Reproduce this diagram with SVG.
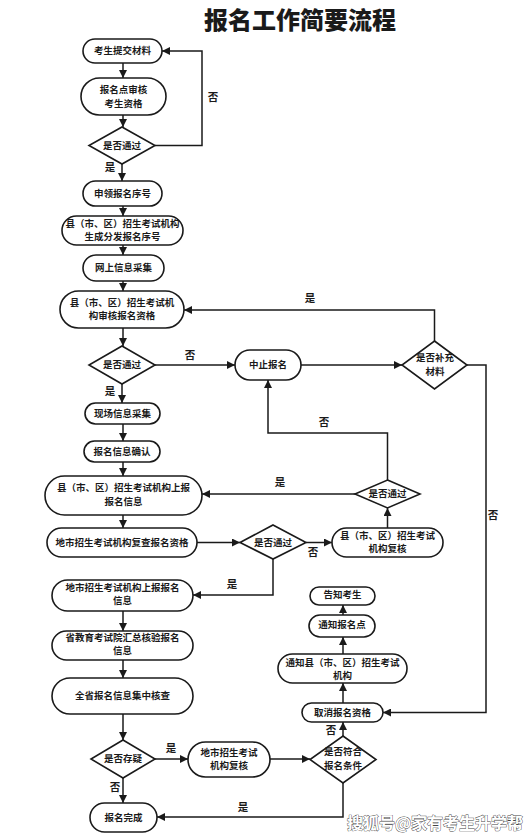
<svg xmlns="http://www.w3.org/2000/svg" width="530" height="840" viewBox="0 0 530 840">
<defs>
<marker id="ah" viewBox="0 0 10 10" refX="10" refY="5" markerWidth="9" markerHeight="8" markerUnits="userSpaceOnUse" orient="auto"><path d="M0,0 L10,5 L0,10 z" fill="#1a1a1a"/></marker>
</defs>
<style>
.n rect,.n polygon{fill:#fff;stroke:#1a1a1a;stroke-width:1.6}
text{font-family:"Noto Sans CJK SC","Noto Sans",sans-serif;font-size:9.5px;font-weight:bold;fill:#1a1a1a;text-anchor:middle}
.c path{fill:none;stroke:#1a1a1a;stroke-width:1.5;marker-end:url(#ah)}
.lb{font-size:10.5px}
.title{font-size:24px;font-weight:900}
.wm{font-size:16px;fill:#fff;stroke:#444;stroke-width:0.8;paint-order:stroke;text-anchor:start}
</style>
<rect width="530" height="840" fill="#fff"/>
<text class="title" x="300" y="29">报名工作简要流程</text>
<g class="c">
<path d="M123,63 V78"/>
<path d="M123,115 V127"/>
<path d="M155,145.5 H202 V51 H162"/>
<path d="M122,164 V181"/>
<path d="M123,206 V216"/>
<path d="M123,245 V255"/>
<path d="M123,281 V291"/>
<path d="M123,328 V346"/>
<path d="M155,365 H235"/>
<path d="M301,365 H402"/>
<path d="M434.5,341 V310 H184"/>
<path d="M467,365 H486 V712.5 H383"/>
<path d="M122,384 V403"/>
<path d="M123,424 V441"/>
<path d="M123,462 V476"/>
<path d="M123,515 V528"/>
<path d="M197,542.5 H240"/>
<path d="M306,542.5 H332"/>
<path d="M387.5,528 V508"/>
<path d="M355,494 H202"/>
<path d="M387.5,480 V433 H268 V380"/>
<path d="M273,559 V595 H193"/>
<path d="M123,611 V631"/>
<path d="M123,660 V678"/>
<path d="M123,714 V740"/>
<path d="M155,759 H188"/>
<path d="M270,759 H310"/>
<path d="M343,736 V722"/>
<path d="M343,703 V683"/>
<path d="M343,654 V637"/>
<path d="M343,615 V605"/>
<path d="M343,783 V817 H157"/>
<path d="M123,778 V803"/>
<text class="lb" x="213" y="101">否</text>
<text class="lb" x="110" y="171">是</text>
<text class="lb" x="190" y="359">否</text>
<text class="lb" x="310" y="302">是</text>
<text class="lb" x="493" y="519">否</text>
<text class="lb" x="110" y="395">是</text>
<text class="lb" x="313" y="556">否</text>
<text class="lb" x="280" y="486">是</text>
<text class="lb" x="324" y="426">否</text>
<text class="lb" x="232" y="588">是</text>
<text class="lb" x="171" y="752">是</text>
<text class="lb" x="331" y="734">否</text>
<text class="lb" x="243" y="811">是</text>
<text class="lb" x="115" y="791">否</text>
</g>
<g id="n1" class="n"><rect x="83" y="39" width="79" height="24" rx="12"/><text x="122.5" y="54.3">考生提交材料</text></g>
<g id="n2" class="n"><rect x="81" y="78" width="85" height="37" rx="18.5"/><text x="123.5" y="92.8">报名点审核</text><text x="123.5" y="106.8">考生资格</text></g>
<g id="d1" class="n"><polygon points="122,127 155,145.5 122,164 89,145.5"/><text x="122" y="148.8">是否通过</text></g>
<g id="n3" class="n"><rect x="83" y="181" width="79" height="25" rx="12.5"/><text x="122.5" y="196.8">申领报名序号</text></g>
<g id="n4" class="n"><rect x="62" y="216" width="121" height="29" rx="14.5"/><text x="122.5" y="227.3">县（市、区）招生考试机构</text><text x="122.5" y="240.3">生成分发报名序号</text></g>
<g id="n5" class="n"><rect x="83" y="255" width="81" height="26" rx="13"/><text x="123.5" y="271.3">网上信息采集</text></g>
<g id="n6" class="n"><rect x="60" y="291" width="124" height="37" rx="18.5"/><text x="122" y="305.8">县（市、区）招生考试机</text><text x="122" y="319.3">构审核报名资格</text></g>
<g id="d2" class="n"><polygon points="122,346 155,365 122,384 89,365"/><text x="122" y="368.3">是否通过</text></g>
<g id="n_stop" class="n"><rect x="235" y="350" width="66" height="30" rx="15"/><text x="268" y="368.3">中止报名</text></g>
<g id="d_supp" class="n"><polygon points="434.5,341 467,365 434.5,389 402,365"/><text x="435" y="361">是否补充</text><text x="435" y="374.5">材料</text></g>
<g id="n7" class="n"><rect x="85" y="403" width="75" height="21" rx="10.5"/><text x="122.5" y="416.8">现场信息采集</text></g>
<g id="n8" class="n"><rect x="84" y="441" width="76" height="21" rx="10.5"/><text x="122" y="454.8">报名信息确认</text></g>
<g id="n9" class="n"><rect x="45" y="476" width="157" height="39" rx="19.5"/><text x="123.5" y="491.3">县（市、区）招生考试机构上报</text><text x="123.5" y="504.8">报名信息</text></g>
<g id="n10" class="n"><rect x="47" y="528" width="150" height="29" rx="14.5"/><text x="122" y="545.8">地市招生考试机构复查报名资格</text></g>
<g id="d3" class="n"><polygon points="273,525 306,542.5 273,559 240,542.5"/><text x="273" y="545.8">是否通过</text></g>
<g id="n_xian_recheck" class="n"><rect x="332" y="528" width="111" height="29" rx="14.5"/><text x="387.5" y="539">县（市、区）招生考试</text><text x="387.5" y="552">机构复核</text></g>
<g id="d4" class="n"><polygon points="387.5,480 420,494 387.5,508 355,494"/><text x="387.5" y="497.3">是否通过</text></g>
<g id="n11" class="n"><rect x="52" y="580" width="141" height="31" rx="15.5"/><text x="122.5" y="591">地市招生考试机构上报报名</text><text x="122.5" y="604">信息</text></g>
<g id="n12" class="n"><rect x="52" y="631" width="141" height="29" rx="14.5"/><text x="122.5" y="640.5">省教育考试院汇总核验报名</text><text x="122.5" y="653.5">信息</text></g>
<g id="n13" class="n"><rect x="52" y="678" width="141" height="36" rx="18"/><text x="122.5" y="699.3">全省报名信息集中核查</text></g>
<g id="d5" class="n"><polygon points="123,740 155,759 123,778 91,759"/><text x="123" y="762.3">是否存疑</text></g>
<g id="n_city_recheck" class="n"><rect x="188" y="742" width="82" height="35" rx="17.5"/><text x="229" y="756">地市招生考试</text><text x="229" y="769">机构复核</text></g>
<g id="d6" class="n"><polygon points="343,736 376,759.5 343,783 310,759.5"/><text x="343" y="755">是否符合</text><text x="343" y="768.5">报名条件</text></g>
<g id="n_cancel" class="n"><rect x="302" y="703" width="81" height="19" rx="9.5"/><text x="342.5" y="715.8">取消报名资格</text></g>
<g id="n_notify_xian" class="n"><rect x="278" y="654" width="129" height="29" rx="14.5"/><text x="342.5" y="665.5">通知县（市、区）招生考试</text><text x="342.5" y="678.5">机构</text></g>
<g id="n_notify_point" class="n"><rect x="309" y="615" width="66" height="22" rx="11"/><text x="342" y="628.3">通知报名点</text></g>
<g id="n_tell" class="n"><rect x="310" y="587" width="65" height="18" rx="9"/><text x="342.5" y="598.3">告知考生</text></g>
<g id="n_done" class="n"><rect x="90" y="803" width="67" height="29" rx="14.5"/><text x="123.5" y="820.8">报名完成</text></g>
<text class="wm" x="347" y="829">搜狐号@家有考生升学帮</text>
</svg>
